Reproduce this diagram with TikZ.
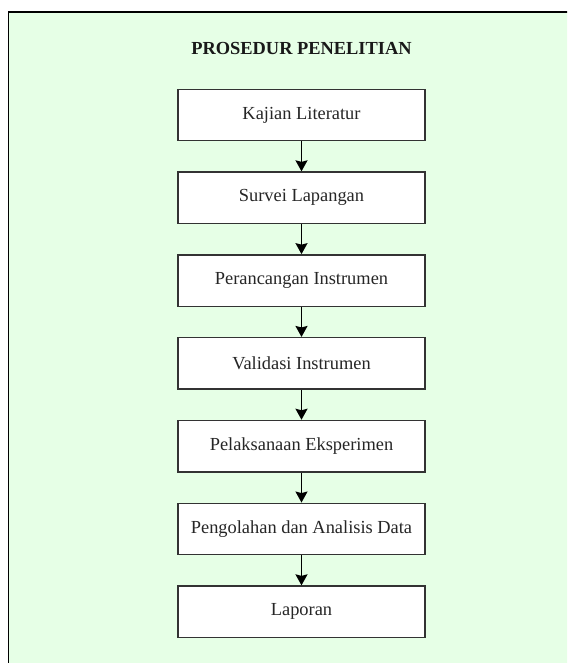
\documentclass[tikz,border=0pt]{standalone}
\usepackage{fontspec}
\setmainfont{Liberation Serif}
\usetikzlibrary{positioning,arrows.meta}

\definecolor{panelgreen}{RGB}{230,255,230}

\begin{document}
\begin{tikzpicture}[x=1pt,y=-1pt,
  stepbox/.style={draw=black!80, line width=1.4pt, fill=white,
    minimum width=247pt, minimum height=51.5pt, inner sep=0pt,
    text=black!85, font=\fontsize{18.4}{22}\selectfont},
  flow/.style={-{Stealth[length=11pt,width=12pt,inset=1.5pt]}, line width=1.6pt},
  node distance=29.9pt]
% Page size of the reference
\useasboundingbox (0,0) rectangle (567,663);
\clip (0,0) rectangle (567,663);
% Green panel, running off the right and bottom edges
\draw[fill=panelgreen, line width=1.6pt] (8.5,12) rectangle (620,720);
% Title
\node[font=\fontsize{18.4}{22}\selectfont\bfseries, text=black!90] (title) at (301.5,49) {PROSEDUR PENELITIAN};
% Steps of the procedure
\node[stepbox] (kajian) at (301.5,115) {Kajian Literatur};
\node[stepbox, below=of kajian] (survei) {Survei Lapangan};
\node[stepbox, below=of survei] (rancang) {Perancangan Instrumen};
\node[stepbox, below=of rancang] (validasi) {Validasi Instrumen};
\node[stepbox, below=of validasi] (eksperimen) {Pelaksanaan Eksperimen};
\node[stepbox, below=of eksperimen] (olah) {Pengolahan dan Analisis Data};
\node[stepbox, below=of olah] (laporan) {Laporan};
% Arrows between steps
\draw[flow] (kajian) -- (survei);
\draw[flow] (survei) -- (rancang);
\draw[flow] (rancang) -- (validasi);
\draw[flow] (validasi) -- (eksperimen);
\draw[flow] (eksperimen) -- (olah);
\draw[flow] (olah) -- (laporan);
\end{tikzpicture}
\end{document}
